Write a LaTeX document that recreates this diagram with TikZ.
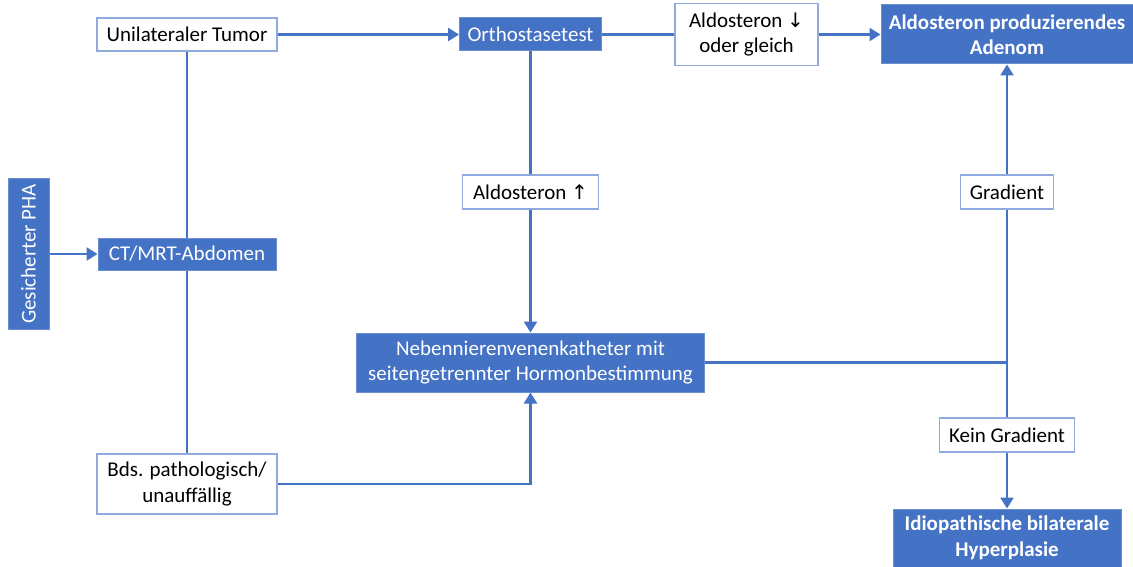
\documentclass[tikz,border=0pt]{standalone}
\usepackage{fontspec}
\setmainfont{Carlito}
\newfontfamily\arrowfont{DejaVu Sans}
\usetikzlibrary{arrows.meta}
\definecolor{mblue}{HTML}{4472C4}
\definecolor{lblue}{HTML}{8FAADC}
\begin{document}
\begin{tikzpicture}[x=1pt,y=-1pt,
  font=\fontsize{21}{25.5}\selectfont,
  wbox/.style={draw=lblue, line width=1.2pt, fill=white, align=center, inner sep=0pt, text=black},
  bbox/.style={draw=lblue!50!mblue, line width=1pt, fill=mblue, align=center, inner sep=0pt, text=white},
  conn/.style={draw=mblue, line width=2.5pt},
  arr/.style={conn, -{Triangle[length=11pt,width=13pt]}}]
\useasboundingbox (0,0) rectangle (1133,567);

\node[bbox, rotate=90, minimum width=150, minimum height=41] (pha) at (28.5,254) {Gesicherter PHA};
\node[bbox, minimum width=178, minimum height=32] (ct) at (187,254) {CT/MRT-Abdomen};
\node[wbox, minimum width=180, minimum height=33] (tumor) at (187,34.5) {Unilateraler Tumor};
\node[bbox, minimum width=142, minimum height=33] (ortho) at (530.5,34.5) {Orthostasetest};
\node[wbox, minimum width=143, minimum height=62] (aldodown) at (746.5,34.5) {Aldosteron {\arrowfont\fontsize{20}{20}\selectfont↓}\\oder gleich};
\node[bbox, minimum width=252, minimum height=59, font=\fontsize{21}{25.5}\selectfont\bfseries] (adenom) at (1007,34.5) {Aldosteron produzierendes\\Adenom};
\node[wbox, minimum width=136, minimum height=34] (aldoup) at (530.5,192) {Aldosteron {\arrowfont\fontsize{20}{20}\selectfont↑}};
\node[wbox, minimum width=93, minimum height=34] (grad) at (1007,192) {Gradient};
\node[bbox, minimum width=348, minimum height=59] (nnk) at (530.5,362.5) {Nebennierenvenenkatheter mit\\seitengetrennter Hormonbestimmung};
\node[wbox, minimum width=135, minimum height=34] (kein) at (1007,435) {Kein Gradient};
\node[wbox, minimum width=180, minimum height=60] (bds) at (187,484) {Bds. pathologisch/\\unauffällig};
\node[bbox, minimum width=228, minimum height=58, font=\fontsize{21}{25.5}\selectfont\bfseries] (idio) at (1007,538) {Idiopathische bilaterale\\Hyperplasie};
\coordinate (j) at (1007,362.5);

\draw[arr] (pha) -- (ct);
\draw[conn] (tumor) -- (ct);
\draw[conn] (ct) -- (bds);
\draw[arr] (tumor) -- (ortho);
\draw[conn] (ortho) -- (aldodown);
\draw[arr] (aldodown) -- (adenom);
\draw[conn] (ortho) -- (aldoup);
\draw[arr] (aldoup) -- (nnk);
\draw[arr] (bds.east) -| (nnk.south);
\draw[conn] (nnk.east) -- (j);
\draw[conn] (j) -- (grad);
\draw[arr] (grad) -- (adenom);
\draw[conn] (j) -- (kein);
\draw[arr] (kein) -- (idio);
\end{tikzpicture}
\end{document}
